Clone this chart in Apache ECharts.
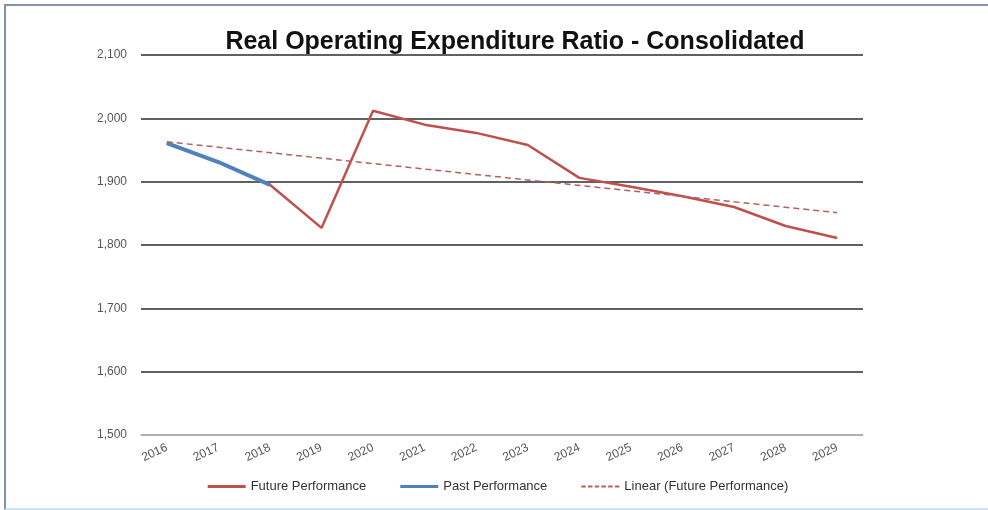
<!DOCTYPE html>
<html>
<head>
<meta charset="utf-8">
<script src="https://cdn.jsdelivr.net/npm/echarts@6/dist/echarts.min.js"></script>
<style>
  html, body { margin: 0; padding: 0; background: #fff; }
  #frame {
    position: absolute; left: 4px; top: 4px; width: 984px; height: 502px;
    border-top: 2px solid #8393ab; border-left: 2px solid #8393ab;
    border-bottom: 2px solid #cfe6f3;
  }
  #chart { width: 984px; height: 502px; }
</style>
</head>
<body>
<div id="frame"><div id="chart"></div></div>
<script>
const years = ["2016", "2017", "2018", "2019", "2020", "2021", "2022", "2023", "2024", "2025", "2026", "2027", "2028", "2029"];
const futurePerformance = [1961, 1931, 1895, 1827, 2012, 1990, 1977, 1958, 1906, 1892, 1877, 1860, 1830, 1811];
const pastPerformance = [1961, 1931, 1895, null, null, null, null, null, null, null, null, null, null, null];
// trend line read at its two ends only
const linearTrend = [1963, null, null, null, null, null, null, null, null, null, null, null, null, 1851];
const yTicks = [1500, 1600, 1700, 1800, 1900, 2000, 2100];

const dashIcon = "path://M0,0h4v2h-4z M6,0h4v2h-4z M12,0h4v2h-4z M18,0h4v2h-4z M24,0h4v2h-4z M30,0h4v2h-4z";

const chart = echarts.init(document.getElementById("chart"));
chart.setOption({
  animation: false,
  textStyle: { fontFamily: "Liberation Sans" },
  title: {
    text: "Real Operating Expenditure Ratio - Consolidated",
    left: 504, top: 19, textAlign: "center",
    textStyle: { fontSize: 25, fontWeight: "bold", color: "#111", fontFamily: "Liberation Sans" }
  },
  grid: { left: 135, right: 127, top: 49, bottom: 73 },
  legend: {
    bottom: 10, left: "center", itemGap: 34,
    textStyle: { fontSize: 13, color: "#333" },
    itemWidth: 38, itemHeight: 3,
    data: [
      { name: "Future Performance", icon: "rect" },
      { name: "Past Performance", icon: "rect" },
      { name: "Linear (Future Performance)", icon: dashIcon }
    ]
  },
  xAxis: {
    type: "category",
    boundaryGap: true,
    data: years,
    axisLine: { lineStyle: { color: "#ccc", width: 1.5 } },
    axisTick: { show: false },
    axisLabel: { rotate: 25, color: "#555", fontSize: 12, margin: 12 }
  },
  yAxis: {
    type: "value",
    min: yTicks[0], max: yTicks[yTicks.length - 1], interval: 100,
    axisLine: { show: false },
    axisTick: { show: false },
    axisLabel: {
      color: "#555", fontSize: 12, margin: 14,
      formatter: v => v.toLocaleString("en-US")
    },
    splitLine: { lineStyle: { color: "#2b2b2b", width: 1.5 } }
  },
  series: [
    {
      name: "Future Performance",
      type: "line",
      data: futurePerformance,
      symbol: "none",
      color: "#c0504d",
      lineStyle: { width: 2.5, color: "#c0504d" },
      z: 2
    },
    {
      name: "Past Performance",
      type: "line",
      data: pastPerformance,
      symbol: "none",
      color: "#4f81bd",
      lineStyle: { width: 4, color: "#4f81bd" },
      z: 3
    },
    {
      name: "Linear (Future Performance)",
      type: "line",
      data: linearTrend,
      connectNulls: true,
      symbol: "none",
      color: "#b5605c",
      lineStyle: { width: 1.5, type: [6, 4], color: "#b5605c" },
      z: 4
    }
  ]
});
</script>
</body>
</html>
